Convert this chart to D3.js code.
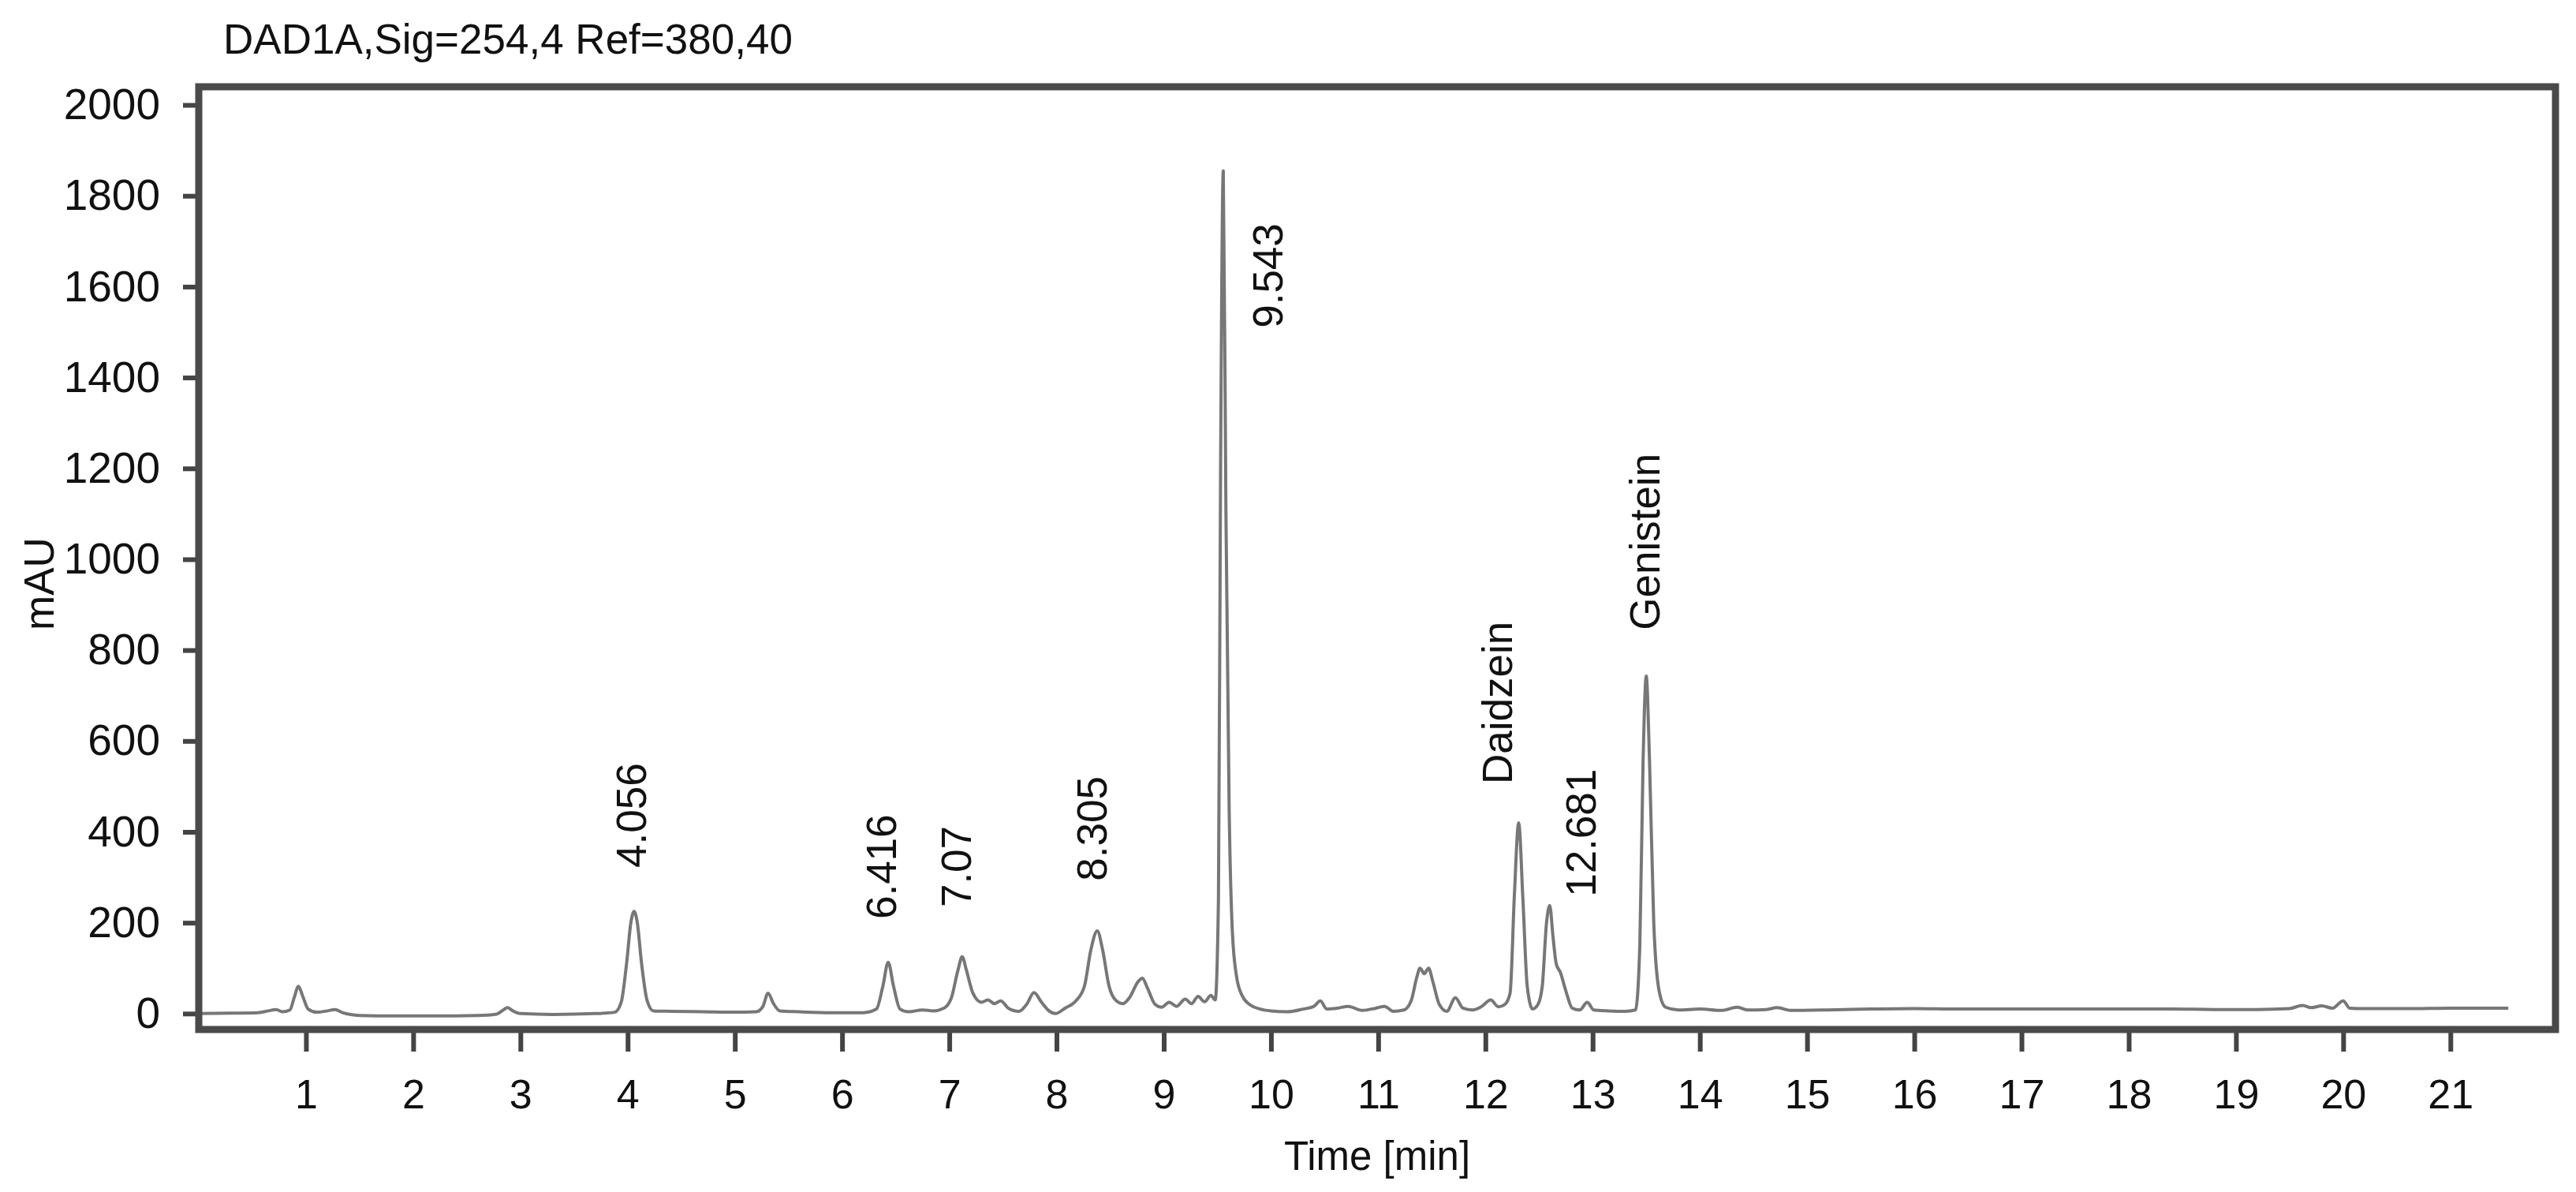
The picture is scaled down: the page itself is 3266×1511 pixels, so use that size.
<!DOCTYPE html>
<html>
<head>
<meta charset="utf-8">
<script src="https://cdn.jsdelivr.net/npm/d3@7"></script>
<style>
  html, body { margin: 0; padding: 0; background: #fff; }
  svg { display: block; }
  text { font-family: "Liberation Sans", Arial, Helvetica, sans-serif; fill: #111; }
</style>
</head>
<body>
<svg id="chart" width="3266" height="1511"></svg>
<script>
// ---------------- data ----------------
const titleText = "DAD1A,Sig=254,4 Ref=380,40";
const xLabel = "Time [min]";
const yLabel = "mAU";

const xTicks = [1,2,3,4,5,6,7,8,9,10,11,12,13,14,15,16,17,18,19,20,21];
const yTicks = [0,200,400,600,800,1000,1200,1400,1600,1800,2000];

// retention time (min)
const timeMin = [
  0.00,0.30,0.55,0.65,0.72,0.78,0.85,0.89,0.93,0.97,1.02,1.10,1.20,1.27,1.34,1.50,1.80,2.20,2.60,2.78,
  2.84,2.88,2.93,3.00,3.30,3.70,3.88,3.94,3.99,4.03,4.06,4.09,4.13,4.18,4.24,4.40,4.70,5.00,5.20,5.26,
  5.31,5.36,5.42,5.60,5.90,6.20,6.32,6.38,6.43,6.48,6.54,6.62,6.75,6.85,6.95,7.02,7.08,7.12,7.16,7.22,
  7.30,7.36,7.42,7.48,7.55,7.65,7.72,7.79,7.86,7.93,7.99,8.08,8.18,8.26,8.32,8.38,8.43,8.49,8.55,8.62,
  8.68,8.76,8.80,8.85,8.92,8.98,9.05,9.12,9.20,9.26,9.32,9.38,9.44,9.48,9.51,9.53,9.555,9.58,9.61,9.64,
  9.68,9.73,9.80,9.90,10.00,10.15,10.30,10.40,10.46,10.52,10.62,10.72,10.85,10.98,11.06,11.14,11.24,11.31,11.36,11.39,
  11.43,11.47,11.51,11.57,11.64,11.72,11.79,11.88,11.96,12.05,12.12,12.18,12.23,12.27,12.31,12.35,12.39,12.44,12.49,12.53,
  12.57,12.60,12.63,12.66,12.70,12.75,12.81,12.88,12.95,13.01,13.15,13.30,13.40,13.44,13.47,13.50,13.53,13.57,13.62,13.68,
  13.80,14.00,14.20,14.35,14.45,14.62,14.72,14.85,15.20,15.60,16.00,16.40,16.80,17.20,17.60,18.00,18.40,18.80,19.20,19.50,
  19.62,19.70,19.80,19.90,20.00,20.06,20.20,20.60,21.00,21.54
];
// detector response (mAU)
const absorbance = [
  0,1,2,6,9,4,8,35,60,38,10,3,6,9,2,-4,-5,-5,-4,-1,
  8,13,6,0,-2,0,3,25,110,200,225,200,110,30,6,5,4,3,4,15,
  45,22,6,4,2,2,10,60,113,60,10,4,8,6,12,35,95,125,95,45,
  25,30,22,28,12,5,20,46,25,6,0,12,28,60,140,182,140,60,30,22,
  35,70,78,55,20,14,25,16,32,22,38,26,40,30,250,1200,1855,1100,450,180,
  80,40,20,10,6,4,10,16,28,10,12,16,7,12,16,5,8,30,80,100,
  88,100,70,20,5,35,12,8,15,30,15,20,45,260,420,250,60,10,20,60,
  200,238,170,110,90,50,12,8,25,8,6,5,8,150,550,743,560,200,50,14,
  8,10,7,14,8,9,13,7,8,10,11,10,10,10,10,10,10,9,9,11,
  18,13,17,12,28,12,11,11,12,12
];

// peak annotations: text, anchor time (min), anchor level (mAU) where the text begins
const peakLabels = ["4.056","6.416","7.07","8.305","9.543","Daidzein","12.681","Genistein"];
const labelTime  = [4.03, 6.36, 7.06, 8.33, 9.97, 12.11, 12.89, 13.48];
const labelLevel = [321, 208, 234, 292, 1509, 505, 257, 844];

// ---------------- layout ----------------
const W = 3266, H = 1511;
const plot = { left: 252, right: 3240, top: 110, bottom: 1305 };

const svg = d3.select("#chart");

const x = d3.scaleLinear().domain([0, 21.98]).range([plot.left, plot.right]);
const y = d3.scaleLinear().domain([-35, 2040]).range([plot.bottom, plot.top]);

// title
svg.append("text")
  .attr("x", 283).attr("y", 68)
  .attr("font-size", 53)
  .text(titleText);

// clip for signal
svg.append("defs").append("clipPath").attr("id", "plotclip")
  .append("rect")
  .attr("x", plot.left).attr("y", plot.top)
  .attr("width", plot.right - plot.left).attr("height", plot.bottom - plot.top);

// signal trace
const pts = timeMin.map((t, i) => [t, absorbance[i]]);
const line = d3.line()
  .x(d => x(d[0]))
  .y(d => y(d[1]))
  .curve(d3.curveMonotoneX);

svg.append("path")
  .datum(pts)
  .attr("clip-path", "url(#plotclip)")
  .attr("d", line)
  .attr("fill", "none")
  .attr("stroke", "#777")
  .attr("stroke-width", 4)
  .attr("stroke-linejoin", "round");

// y axis
const yAxis = svg.append("g")
  .attr("transform", `translate(${plot.left},0)`)
  .call(d3.axisLeft(y).tickValues(yTicks).tickSize(20).tickPadding(29).tickFormat(d3.format("d")));
yAxis.select(".domain").remove();
yAxis.selectAll(".tick line").attr("stroke", "#444").attr("stroke-width", 6);
yAxis.selectAll(".tick text")
  .attr("font-size", 55)
  .attr("font-family", "Liberation Sans, Arial, sans-serif")
  .attr("fill", "#111");

// x axis
const xAxis = svg.append("g")
  .attr("transform", `translate(0,${plot.bottom})`)
  .call(d3.axisBottom(x).tickValues(xTicks).tickSize(28).tickPadding(35).tickFormat(d3.format("d")));
xAxis.select(".domain").remove();
xAxis.selectAll(".tick line").attr("stroke", "#444").attr("stroke-width", 6);
xAxis.selectAll(".tick text")
  .attr("font-size", 52)
  .attr("font-family", "Liberation Sans, Arial, sans-serif")
  .attr("fill", "#111");

// frame
svg.append("rect")
  .attr("x", plot.left).attr("y", plot.top)
  .attr("width", plot.right - plot.left)
  .attr("height", plot.bottom - plot.top)
  .attr("fill", "none")
  .attr("stroke", "#4a4a4a")
  .attr("stroke-width", 9);

// axis titles
svg.append("text")
  .attr("x", (plot.left + plot.right) / 2)
  .attr("y", 1483)
  .attr("text-anchor", "middle")
  .attr("font-size", 51)
  .text(xLabel);

svg.append("text")
  .attr("transform", `translate(68,740) rotate(-90)`)
  .attr("text-anchor", "middle")
  .attr("font-size", 53)
  .text(yLabel);

// peak labels (rotated)
const labelSize = 53;
svg.append("g").selectAll("text")
  .data(peakLabels)
  .join("text")
  .attr("transform", (d, i) => `translate(${x(labelTime[i]) + labelSize * 0.36},${y(labelLevel[i])}) rotate(-90)`)
  .attr("text-anchor", "start")
  .attr("font-size", labelSize)
  .text(d => d);
</script>
</body>
</html>
